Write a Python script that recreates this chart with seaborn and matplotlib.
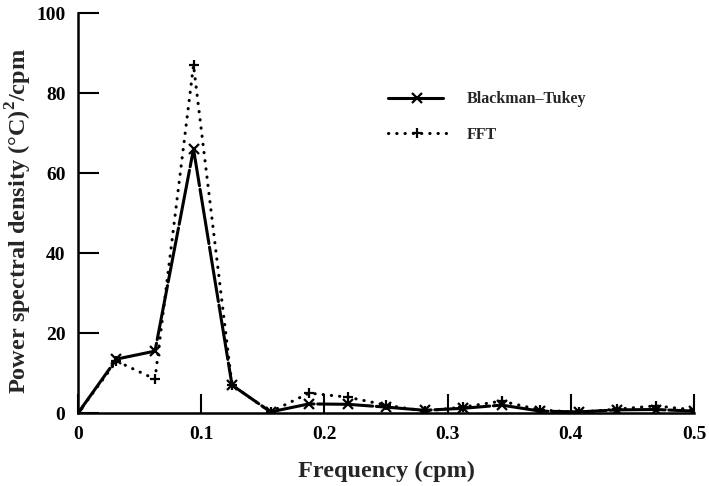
import numpy as np
import pandas as pd
import matplotlib
matplotlib.use("Agg")
import matplotlib.pyplot as plt
import seaborn as sns

# Frequencies in cycles per minute (step 1/32)
freq = [0.0, 0.03125, 0.0625, 0.09375, 0.125, 0.15625, 0.1875, 0.21875, 0.25,
        0.28125, 0.3125, 0.34375, 0.375, 0.40625, 0.4375, 0.46875, 0.5]
blackman_tukey = [0.0, 13.5, 15.5, 66.0, 7.0, 0.3, 2.3, 2.2, 1.5,
                  0.7, 1.2, 2.0, 0.5, 0.3, 0.8, 0.9, 0.5]
fft = [0.0, 13.0, 8.5, 87.0, 7.0, 0.3, 5.0, 4.0, 2.0,
       0.5, 1.5, 3.0, 0.8, 0.2, 1.0, 1.8, 0.8]
series_names = ["Blackman\u2013Tukey", "FFT"]
x_ticks = [0, 0.1, 0.2, 0.3, 0.4, 0.5]
x_tick_labels = ["0", "0.1", "0.2", "0.3", "0.4", "0.5"]
y_ticks = [0, 20, 40, 60, 80, 100]

df = pd.DataFrame({
    "freq": freq * 2,
    "psd": blackman_tukey + fft,
    "method": [series_names[0]] * len(freq) + [series_names[1]] * len(freq),
})

sns.set_theme(style="ticks")
plt.rcParams["font.family"] = ["Liberation Serif", "DejaVu Serif"]
plt.rcParams["font.weight"] = "bold"
plt.rcParams["mathtext.fontset"] = "custom"
plt.rcParams["mathtext.bf"] = "Liberation Serif:bold"

fig = plt.figure(figsize=(7.09, 4.86), dpi=100)
ax = fig.add_axes([0.110, 0.150, 0.869, 0.823])

sns.lineplot(
    data=df, x="freq", y="psd", style="method", ax=ax,
    color="black", linewidth=2.2,
    dashes={series_names[0]: (18, 1.2), series_names[1]: (0.1, 2.6)},
    markers={series_names[0]: "x", series_names[1]: "+"},
    markersize=6.5, markeredgewidth=1.6, markeredgecolor="black",
    dash_capstyle="round", legend=True,
)

ax.set_xlim(0, 0.5)
ax.set_ylim(0, 100)
ax.set_xticks(x_ticks)
ax.set_xticklabels(x_tick_labels)
ax.set_yticks(y_ticks)
ax.tick_params(axis="both", direction="in", length=15, width=1.5,
               labelsize=14, colors="black", pad=9)
ax.tick_params(axis="x", length=14)
for lab in ax.get_xticklabels() + ax.get_yticklabels():
    lab.set_fontweight("bold")

sns.despine(ax=ax)
for s in ("left", "bottom"):
    ax.spines[s].set_linewidth(1.8)
    ax.spines[s].set_color("black")

ax.set_xlabel("Frequency (cpm)", fontsize=17.5, fontweight="bold", labelpad=13)
ax.set_ylabel("Power spectral density (\u00b0C)$^\\mathbf{2}$/cpm",
              fontsize=17.5, fontweight="bold")
ax.yaxis.set_label_coords(-0.072, 0.48)

leg = ax.legend(loc="upper left", bbox_to_anchor=(0.48, 0.84), frameon=False,
                fontsize=11.5, handlelength=3.6, labelspacing=1.2,
                handletextpad=1.3, title=None)
for t in leg.get_texts():
    t.set_fontweight("bold")

fig.savefig("out.png", dpi=100)
